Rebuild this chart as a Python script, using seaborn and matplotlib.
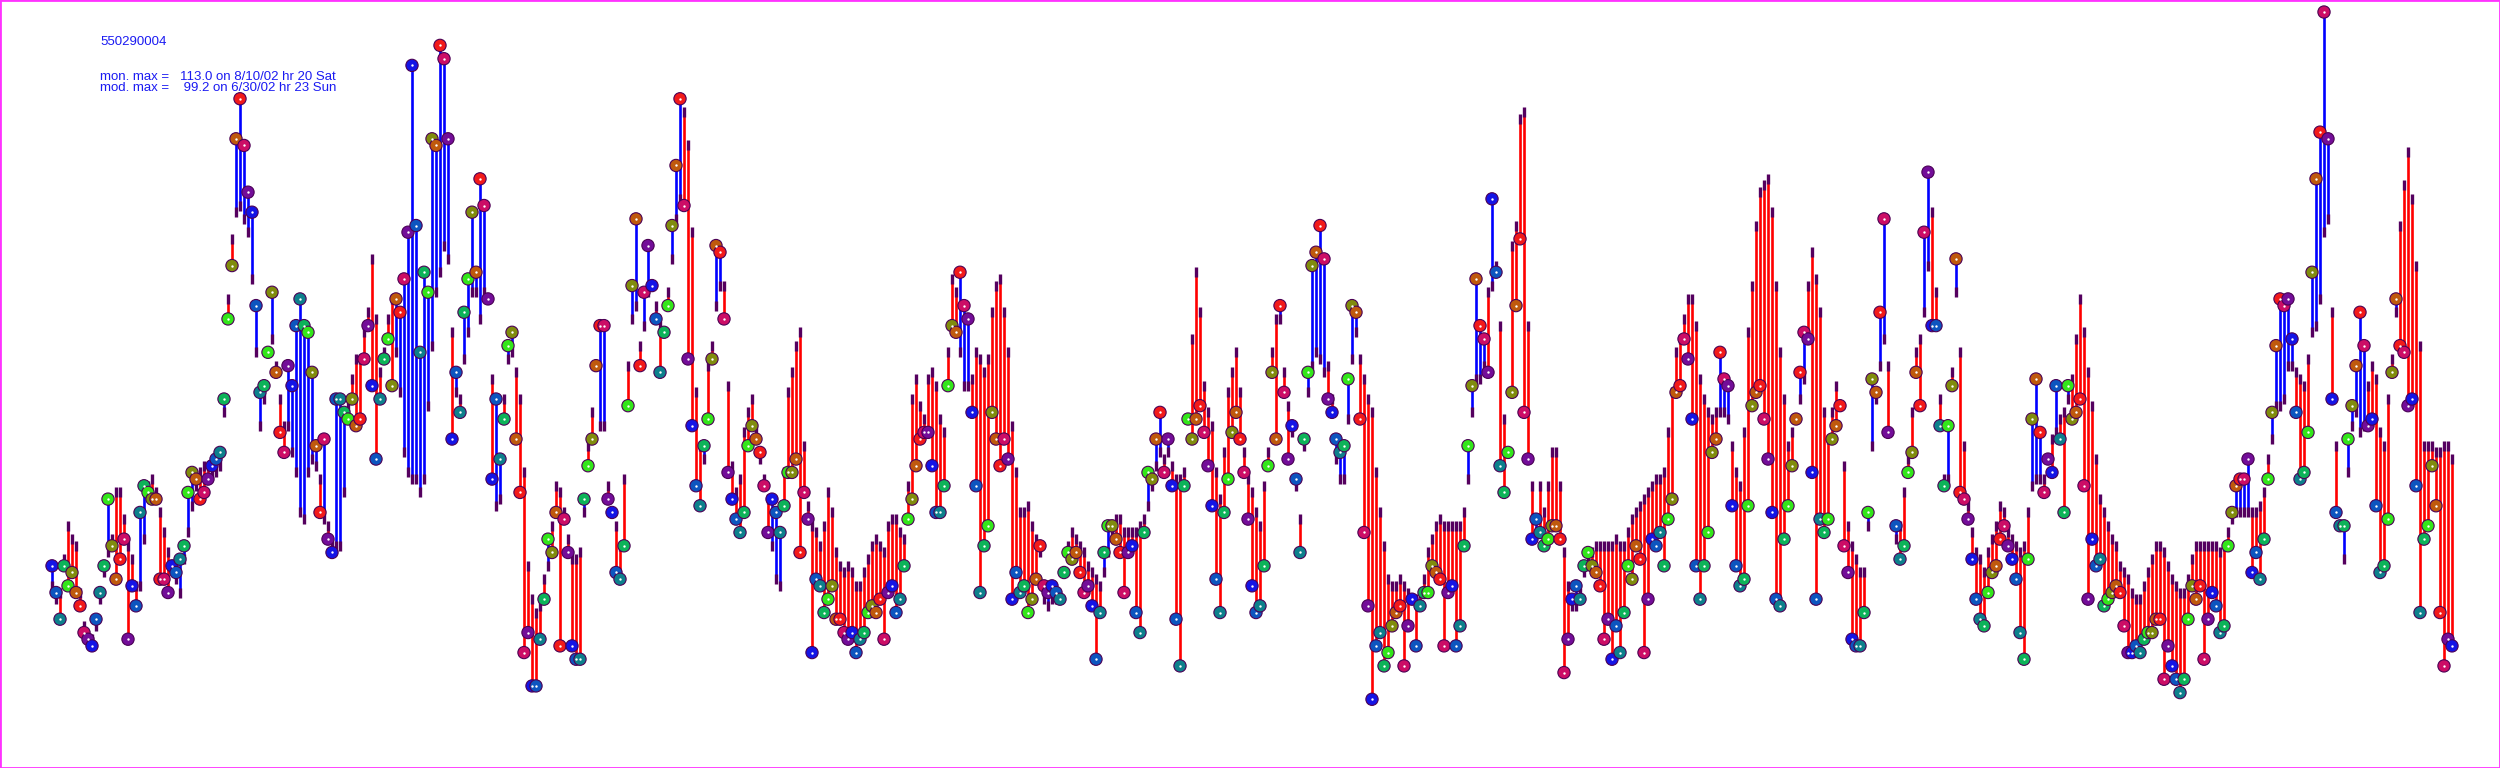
import numpy as np
import pandas as pd
import matplotlib
matplotlib.use('Agg')
import matplotlib.pyplot as plt
import seaborn as sns

# --- values (ppb), one sample per step, left to right ---
nan = float('nan')

monitor_a = [30, 26, 22, 30, 27, 29, 26, 24, 20, 19, 18, 22, 26, 30, 40, 33, 28, 31, 34, 19, 27, 24, 38, 42,
             41, 40, 40, 28, 28, 26, 30, 29, 31, 33, 41, 44, 43, 40, 41, 43, 45, 46, 47, 55, 67, 75, 94, 100,
             93, 86, 83, 69, 56, 57, 62, 71, 59, 50, 47, 60, 57, 66, 70, 66, 65, 59, 48, 38, 49, 34, 32, 55]
model_a = [27, 25, 26, 31, 36, 34, 33, 26, 21, 19, 19, 21, 25, 29, 32, 34, 41, 41, 37, 33, 31, 27, 27, 34,
           42, 43, 41, 38, 35, 32, 30, 28, 26, 31, 35, 39, 42, 44, 45, 45, 44, 44, 45, 53, 70, 79, 83, 84,
           82, 80, 73, 62, 51, 55, 62, 64, 60, 55, 51, 51, 47, 44, 38, 37, 44, 46, 45, 43, 37, 36, 33, 33]

monitor_b = [55, 53, 52, 55, 51, 52, 61, 66, 57, 46, 55, 61, 64, 57, 70, 68, 73, 80, 105, 81, 62, 74, 71, 94, 93,
             108, 106, 94, 49, 59, 53, 68, 73, 83, 74, 88, 84, 70, 43, 55, 46, 52, 63, 65, 49, 41, 17, 20, 12, 12,
             19, 25, 34, 32, 38, 18, 37, 32, 18, 16, 16, 40, 45, 49, 60, 66, 66, 40, 38, 29, 28, 33, 54, 72, 82]
model_b = [33, 41, 54, 58, 61, 61, 65, 68, 76, 67, 59, 62, 67, 70, 62, 56, 47, 44, 43, 43, 41, 43, 54, 63, 71,
           74, 78, 76, 65, 56, 55, 61, 65, 71, 71, 67, 71, 70, 58, 39, 40, 55, 61, 62, 59, 55, 44, 30, 25, 23,
           24, 28, 30, 36, 42, 41, 38, 34, 31, 31, 32, 38, 48, 53, 60, 51, 51, 42, 38, 36, 33, 43, 60, 67, 69]

monitor_c = [60, 71, 78, 72, 67, 59, 65, 69, 81, 90, 100, 84, 61, 51, 42, 39, 48, 52, 61, 78, 77, 67, 44, 40, 37,
             35, 38, 48, 51, 49, 47, 42, 35, 40, 38, 35, 39, 44, 44, 46, 32, 41, 37, 17, 28, 27, 23, 25, 27, 22,
             22, 20, 19, 20, 17, 19, 20, 23, 24, 23, 25, 19, 26, 27, 23, 25, 30, 37, 40, 45, 49, 50, 50, 45, 38]
model_c = [63, 66, 71, 72, 69, 66, 65, 71, 76, 82, 85, 98, 93, 80, 56, 48, 46, 60, 63, 69, 72, 72, 57, 45, 41,
           43, 50, 53, 55, 50, 46, 43, 40, 33, 28, 27, 44, 56, 59, 63, 65, 48, 39, 36, 35, 33, 36, 41, 38, 32,
           30, 29, 30, 29, 27, 27, 29, 31, 33, 34, 33, 32, 36, 37, 37, 35, 34, 42, 55, 58, 54, 52, 58, 59, 57]

monitor_d = [38, 42, 57, 66, 65, 74, 69, 67, 53, 42, 26, 33, 36, 53, 49, 45, 49, 46, 25, 29, 26, 27, 23, 25, 28,
             33, 27, 26, 27, 26, 25, 29, 32, 31, 32, 29, 26, 27, 24, 16, 23, 32, 36, 36, 34, 32, 26, 32, 33, 23,
             20, 35, 44, 43, 49, 53, 44, 49, 42, 22, 15, 42, 52, 49, 52, 54, 50, 45, 39, 28, 23, 38, 43, 50, 53]
model_d = [52, 50, 62, 73, 71, 62, 57, 57, 58, 62, 61, 59, 61, 68, 72, 73, 68, 62, 51, 44, 38, 38, 39, 36, 34,
           32, 25, 24, 25, 25, 25, 29, 33, 35, 34, 33, 32, 30, 29, 28, 27, 29, 32, 35, 37, 37, 35, 35, 35, 35,
           36, 37, 39, 42, 45, 47, 46, 47, 45, 43, 43, 44, 52, 64, 74, 68, 57, 53, 51, 44, 40, 47, 56, 59, 62]

monitor_e = [49, 44, 37, 27, 23, 24, 30, 45, 59, 49, 69, 56, 46, 51, 43, 32, 49, 59, 75, 77, 81, 76, 55, 53, 49,
             47, 48, 58, 69, 68, 52, 35, 24, 10, 18, 20, 15, 17, 21, 23, 24, 15, 21, 25, 18, 24, 26, 26, 30, 29,
             28, 18, 26, 27, 18, 21, 33, 48, 57, 73, 66, 64, 59, 85, 74, 45, 41, 47, 56, 69, 79, 53, 46, 34, 37]
model_e = [56, 47, 43, 41, 38, 36, 42, 47, 62, 67, 67, 59, 54, 50, 42, 37, 48, 56, 60, 62, 61, 59, 60, 55, 46,
           43, 43, 52, 61, 65, 61, 58, 55, 53, 44, 38, 33, 28, 27, 27, 28, 27, 26, 25, 25, 26, 28, 32, 34, 36,
           37, 36, 36, 36, 36, 36, 38, 43, 53, 58, 58, 60, 71, 72, 75, 66, 52, 47, 78, 81, 97, 98, 66, 42, 35]

monitor_f = [35, 33, 34, 36, 36, 34, 14, 19, 25, 27, 25, 30, 32, 30, 29, 27, 19, 22, 16, 21, 17, 23, 30, 28, 33,
             31, 17, 25, 34, 33, 35, 30, 37, 40, 56, 57, 64, 61, 52, 30, 25, 30, 35, 47, 49, 62, 58, 57, 39, 30,
             27, 28, 39, 54, 56, 57, 52, 46, 38, 25, 24, 34, 39, 45, 52, 59, 65, 64, 44, 25, 37, 35, 37, 49, 51]
model_f = [42, 38, 42, 47, 47, 42, 32, 27, 24, 24, 26, 29, 31, 32, 33, 33, 33, 33, 33, 34, 33, 33, 35, 37, 38,
           39, 40, 41, 42, 43, 43, 44, 50, 56, 62, 64, 67, 70, 70, 66, 58, 55, 53, 52, 53, 53, 53, 52, 48, 44,
           42, 50, 65, 72, 81, 86, 87, 88, 83, 72, 62, 55, 48, 50, 52, 55, 58, 72, 77, 73, 68, 53, 49, 53, 57]

monitor_g = [54, 33, 29, 19, 18, 18, 23, 38, 58, 56, 68, 82, 50, nan, 36, 31, 33, 44, 47, 59, 54, 80, 89, 66, 66,
             51, 42, 51, 57, 76, 41, 40, 37, 31, 25, 22, 21, 26, 29, 30, 34, 36, 33, 31, 28, 20, 16, 31, 52, 58,
             50, 41, 46, 44, 57, 49, 38, 57, 52, 53, 55, 42, 25, 34, 30, 31, 24, 25, 26, 27, 26, 21, 17, 17, 18]
model_g = [54, 45, 36, 33, 31, 29, 29, 36, 48, 55, 60, 64, 60, nan, 34, 36, 41, 46, 53, 62, 64, 68, 75, 83, 71,
           55, 43, 43, 59, 71, 62, 48, 39, 35, 32, 31, 29, 32, 34, 36, 39, 38, 35, 34, 33, 32, 33, 38, 42, 43,
           43, 43, 46, 49, 50, 52, 53, 55, 58, 64, 70, 65, 59, 54, 46, 40, 38, 36, 34, 33, 30, 29, 28, 26, 25]

monitor_h = [17, 19, 20, 20, 22, 22, 13, 18, 15, 13, 11, 13, 22, 27, 25, 27, 16, 22, 26, 24, 20, 21, 33, 38, 42,
             43, 43, 46, 29, 32, 28, 34, 43, 53, 63, 70, 69, 70, 64, 53, 43, 44, 50, 74, 88, 95, 113, 94, 55, 38,
             36, 36, 49, 54, 60, 68, 63, 51, 52, 39, 29, 30, 37, 59, 70, 63, 62, 54, 55, 42, 23, 34, 36, 45, 39,
             23, 15, 19, 18]
model_h = [25, 27, 29, 31, 33, 33, 32, 30, 28, 27, 26, 26, 28, 31, 33, 33, 33, 33, 33, 33, 32, 33, 35, 37, 38,
           38, 38, 38, 38, 38, 39, 41, 46, 49, 54, 54, 55, 60, 60, 59, 58, 57, 61, 65, 66, 70, 80, 82, 68, 48,
           36, 31, 44, 51, 53, 50, 51, 57, 60, 58, 50, 48, 55, 61, 68, 81, 87, 92, 85, 75, 63, 48, 48, 48, 47,
           47, 48, 48, 46]

station_id = '550290004'
monitor_max_text = 'mon. max =   113.0 on 8/10/02 hr 20 Sat'
model_max_text = 'mod. max =    99.2 on 6/30/02 hr 23 Sun'

# marker colours go round this list
HOUR_COLORS = ['#1414e6', '#0d55bf', '#0d808c', '#0db359', '#33e61a',
               '#808c0d', '#bf590d', '#f21a1a', '#cc0d66', '#730d99']
MODEL_COLOR = '#55005f'
EDGE_COLOR = '#4b0055'
TEXT_COLOR = '#1a1af2'
BORDER_COLOR = '#ff33ff'


def build_frame():
    monitor = monitor_a + monitor_b + monitor_c + monitor_d + monitor_e + monitor_f + monitor_g + monitor_h
    model = model_a + model_b + model_c + model_d + model_e + model_f + model_g + model_h
    df = pd.DataFrame({'monitor': monitor, 'model': model}, dtype=float)
    df['sample'] = np.arange(len(df))
    df['phase'] = df['sample'] % len(HOUR_COLORS)
    return df


def main():
    df = build_frame()
    sns.set_style('white')

    fig = plt.figure(figsize=(25, 7.68), dpi=100)
    ax = fig.add_axes([0, 0, 1, 1])

    over = df['model'] > df['monitor']
    ax.vlines(df['sample'][over], df['monitor'][over], df['model'][over], color='#ff0000', lw=1.9, zorder=1)
    ax.vlines(df['sample'][~over], df['monitor'][~over], df['model'][~over], color='#0000ff', lw=1.9, zorder=1)

    sns.scatterplot(data=df, x='sample', y='model', marker='|', s=50, color=MODEL_COLOR,
                    linewidth=2.4, legend=False, ax=ax, zorder=2)
    sns.scatterplot(data=df, x='sample', y='monitor', hue='phase', palette=HOUR_COLORS, s=78,
                    edgecolor=EDGE_COLOR, linewidth=0.8, legend=False, ax=ax, zorder=3)
    sns.scatterplot(data=df, x='sample', y='monitor', s=3, color='white', linewidth=0,
                    legend=False, ax=ax, zorder=4)

    ax.set_xlim(-13, 612)
    ax.set_ylim(-0.3, 114.8)
    ax.set_xticks([])
    ax.set_yticks([])
    ax.set_xlabel('')
    ax.set_ylabel('')
    for spine in ax.spines.values():
        spine.set_color(BORDER_COLOR)
        spine.set_linewidth(2)

    for text, y in [(station_id, 0.0545), (monitor_max_text, 0.1000), (model_max_text, 0.1150)]:
        fig.text(0.04, 1 - y, text, color=TEXT_COLOR, fontsize=9.5, family='Liberation Sans',
                 ha='left', va='center')

    fig.savefig('out.png', dpi=100)
    plt.close(fig)


if __name__ == '__main__':
    main()
